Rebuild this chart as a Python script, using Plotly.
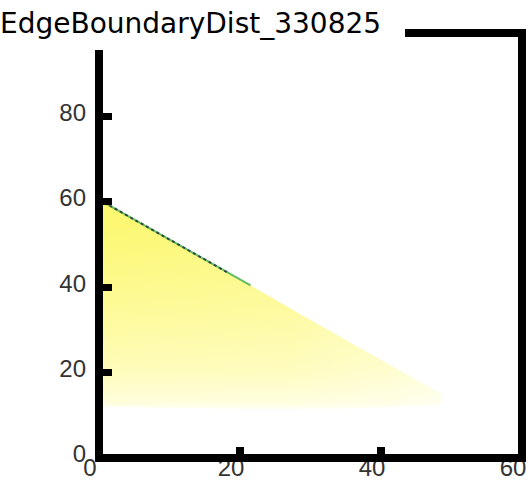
import plotly.graph_objects as go

# Outline of the occupied region (distance vs. boundary), read as polygon vertices
top_x = [0, 10, 20, 30, 40, 45, 48.5]
top_y = [60.5, 51.2, 41.8, 32.3, 22.9, 18.2, 15.0]
bottom_x = [48.5, 40, 30, 20, 10, 0]
bottom_y = [12.5, 11.8, 11.5, 11.5, 11.8, 12.0]

# High-density ridge along the upper boundary
ridge_x = [0, 10, 20, 21.5]
ridge_y = [60.5, 51.2, 41.8, 40.4]
ridge_dark_x = [0, 10, 18.5]
ridge_dark_y = [60.5, 51.2, 43.2]

x_ticks = [0, 20, 40, 60]
y_ticks = [0, 20, 40, 60, 80]

poly_x = top_x + bottom_x + [top_x[0]]
poly_y = top_y + bottom_y + [top_y[0]]

fig = go.Figure()

# density body: yellow, strongest near the top, fading out at the bottom
fig.add_trace(go.Scatter(
    x=poly_x, y=poly_y, mode="lines", fill="toself",
    line=dict(width=0, color="rgba(0,0,0,0)"),
    fillgradient=dict(
        type="vertical",
        start=10.5, stop=61,
        colorscale=[
            [0.00, "rgba(255,255,255,1)"],
            [0.05, "rgba(255,254,220,1)"],
            [0.20, "rgba(254,252,185,1)"],
            [0.50, "rgba(253,250,150,1)"],
            [0.80, "rgba(252,248,120,1)"],
            [1.00, "rgba(251,247,108,1)"],
        ],
    ),
    hoverinfo="skip", showlegend=False,
))

# fade toward the right tip
fig.add_trace(go.Scatter(
    x=poly_x, y=poly_y, mode="lines", fill="toself",
    line=dict(width=0, color="rgba(0,0,0,0)"),
    fillgradient=dict(
        type="horizontal",
        start=0, stop=49,
        colorscale=[
            [0.00, "rgba(255,255,255,0)"],
            [0.55, "rgba(255,255,255,0.08)"],
            [0.85, "rgba(255,255,255,0.3)"],
            [1.00, "rgba(255,255,255,0.55)"],
        ],
    ),
    hoverinfo="skip", showlegend=False,
))

fig.add_trace(go.Scatter(
    x=ridge_x, y=ridge_y, mode="lines",
    line=dict(color="rgba(60,175,70,0.8)", width=2),
    hoverinfo="skip", showlegend=False,
))
fig.add_trace(go.Scatter(
    x=ridge_dark_x, y=ridge_dark_y, mode="lines",
    line=dict(color="rgba(40,50,65,0.85)", width=2, dash="dot"),
    hoverinfo="skip", showlegend=False,
))

tick_font = dict(family="Liberation Sans", size=24, color="#333")

fig.update_xaxes(
    range=[0, 60], tickvals=x_ticks, ticktext=[str(v) for v in x_ticks],
    showgrid=False, zeroline=False, showline=False,
    ticks="inside", ticklen=11, tickwidth=8, tickcolor="black",
    tickfont=tick_font, ticklabelshift=-9, ticklabelstandoff=-7,
    automargin=False, fixedrange=True,
)
fig.update_yaxes(
    range=[0, 99.5], tickvals=y_ticks, ticktext=[str(v) for v in y_ticks],
    showgrid=False, zeroline=False, showline=False,
    ticks="inside", ticklen=13, tickwidth=7, tickcolor="black",
    tickfont=tick_font, ticklabelshift=-4, ticklabelstandoff=12,
    automargin=False, fixedrange=True,
)

# open frame: top edge starts after the title, left edge stops below it
fig.add_shape(
    type="path", xref="paper", yref="paper",
    path="M 0.7234,1 L 1,1 L 1,0 L 0,0 L 0,0.96",
    line=dict(color="black", width=8), layer="above",
)

fig.add_annotation(
    text="EdgeBoundaryDist_330825",
    xref="paper", yref="paper", x=0.6714, y=1.0235,
    xanchor="right", yanchor="middle", showarrow=False,
    font=dict(family="DejaVu Sans", size=28, color="black"),
)

fig.update_layout(
    width=529, height=485,
    margin=dict(l=99, r=7, t=33, b=27, pad=0),
    paper_bgcolor="white", plot_bgcolor="white",
    showlegend=False,
)

fig.write_html("out.html")
